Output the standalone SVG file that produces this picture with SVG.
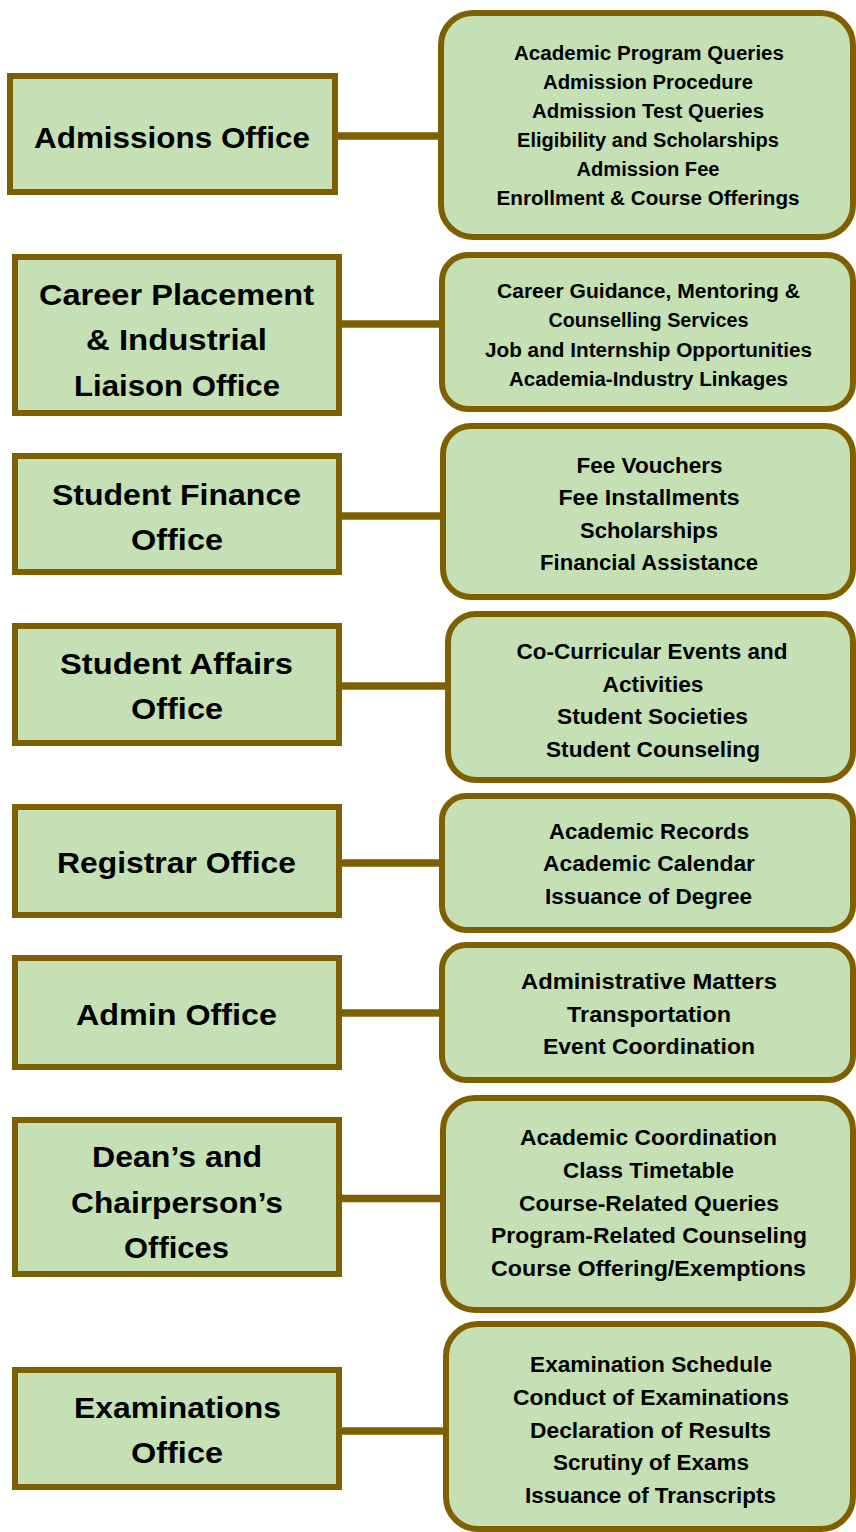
<svg xmlns="http://www.w3.org/2000/svg" width="856" height="1532" viewBox="0 0 856 1532">
<style>
.box{fill:#C5E0B4;stroke:#7F6000;stroke-width:6}
.con{stroke:#7F6000;stroke-width:7.5;fill:none}
text{font-family:"Liberation Sans",Arial,sans-serif;font-weight:bold;fill:#000;text-anchor:middle}
.L{font-size:30px}
.S{font-size:19.5px}
.M{font-size:22.5px}
</style>
<rect width="856" height="1532" fill="#fff"/>
<g id="connectors">
<line class="con" x1="336" y1="136" x2="443" y2="136"/>
<line class="con" x1="340" y1="324" x2="444" y2="324"/>
<line class="con" x1="340" y1="516" x2="444" y2="516"/>
<line class="con" x1="340" y1="686" x2="450" y2="686"/>
<line class="con" x1="340" y1="863" x2="444" y2="863"/>
<line class="con" x1="340" y1="1013" x2="444" y2="1013"/>
<line class="con" x1="340" y1="1198.5" x2="445" y2="1198.5"/>
<line class="con" x1="340" y1="1431" x2="449" y2="1431"/>
</g>
<g id="admissions-office">
<rect class="box" x="10" y="76" width="325" height="116"/>
<text class="L" x="172" y="148" textLength="276" lengthAdjust="spacingAndGlyphs">Admissions Office</text>
</g>
<g id="admissions-services">
<rect class="box" x="441" y="13" width="412" height="224" rx="32"/>
<text class="S" x="649" y="60" textLength="270" lengthAdjust="spacingAndGlyphs">Academic Program Queries</text>
<text class="S" x="648" y="89" textLength="210" lengthAdjust="spacingAndGlyphs">Admission Procedure</text>
<text class="S" x="648" y="118" textLength="232" lengthAdjust="spacingAndGlyphs">Admission Test Queries</text>
<text class="S" x="648" y="147" textLength="262" lengthAdjust="spacingAndGlyphs">Eligibility and Scholarships</text>
<text class="S" x="648" y="176" textLength="143" lengthAdjust="spacingAndGlyphs">Admission Fee</text>
<text class="S" x="648" y="205" textLength="303" lengthAdjust="spacingAndGlyphs">Enrollment &amp; Course Offerings</text>
</g>
<g id="career-office">
<rect class="box" x="15" y="257" width="324" height="156"/>
<text class="L" x="176.5" y="305" textLength="275" lengthAdjust="spacingAndGlyphs">Career Placement</text>
<text class="L" x="176.5" y="350" textLength="181" lengthAdjust="spacingAndGlyphs">&amp; Industrial</text>
<text class="L" x="177" y="396" textLength="206" lengthAdjust="spacingAndGlyphs">Liaison Office</text>
</g>
<g id="career-services">
<rect class="box" x="442" y="255" width="411" height="154" rx="26"/>
<text class="S" x="648.5" y="298" textLength="303" lengthAdjust="spacingAndGlyphs">Career Guidance, Mentoring &amp;</text>
<text class="S" x="648.5" y="327" textLength="200" lengthAdjust="spacingAndGlyphs">Counselling Services</text>
<text class="S" x="648.5" y="357" textLength="327" lengthAdjust="spacingAndGlyphs">Job and Internship Opportunities</text>
<text class="S" x="648.5" y="386" textLength="279" lengthAdjust="spacingAndGlyphs">Academia-Industry Linkages</text>
</g>
<g id="finance-office">
<rect class="box" x="15" y="456" width="324" height="116"/>
<text class="L" x="176.5" y="505" textLength="249" lengthAdjust="spacingAndGlyphs">Student Finance</text>
<text class="L" x="177" y="550" textLength="92" lengthAdjust="spacingAndGlyphs">Office</text>
</g>
<g id="finance-services">
<rect class="box" x="443" y="426" width="410" height="171" rx="28"/>
<text class="M" x="649.5" y="473" textLength="146" lengthAdjust="spacingAndGlyphs">Fee Vouchers</text>
<text class="M" x="649" y="505" textLength="181" lengthAdjust="spacingAndGlyphs">Fee Installments</text>
<text class="M" x="649" y="538" textLength="138" lengthAdjust="spacingAndGlyphs">Scholarships</text>
<text class="M" x="649" y="570" textLength="218" lengthAdjust="spacingAndGlyphs">Financial Assistance</text>
</g>
<g id="affairs-office">
<rect class="box" x="15" y="626" width="324" height="117"/>
<text class="L" x="176.5" y="674" textLength="233" lengthAdjust="spacingAndGlyphs">Student Affairs</text>
<text class="L" x="177" y="719" textLength="92" lengthAdjust="spacingAndGlyphs">Office</text>
</g>
<g id="affairs-services">
<rect class="box" x="448" y="614" width="405" height="166" rx="28"/>
<text class="M" x="652" y="659" textLength="271" lengthAdjust="spacingAndGlyphs">Co-Curricular Events and</text>
<text class="M" x="653" y="692" textLength="101" lengthAdjust="spacingAndGlyphs">Activities</text>
<text class="M" x="652.5" y="724" textLength="191" lengthAdjust="spacingAndGlyphs">Student Societies</text>
<text class="M" x="653" y="757" textLength="214" lengthAdjust="spacingAndGlyphs">Student Counseling</text>
</g>
<g id="registrar-office">
<rect class="box" x="15" y="807" width="324" height="108"/>
<text class="L" x="176.5" y="873" textLength="239" lengthAdjust="spacingAndGlyphs">Registrar Office</text>
</g>
<g id="registrar-services">
<rect class="box" x="442" y="796" width="411" height="134" rx="24"/>
<text class="M" x="649" y="839" textLength="200" lengthAdjust="spacingAndGlyphs">Academic Records</text>
<text class="M" x="649" y="871" textLength="212" lengthAdjust="spacingAndGlyphs">Academic Calendar</text>
<text class="M" x="648.5" y="904" textLength="207" lengthAdjust="spacingAndGlyphs">Issuance of Degree</text>
</g>
<g id="admin-office">
<rect class="box" x="15" y="958" width="324" height="109"/>
<text class="L" x="176.5" y="1025" textLength="201" lengthAdjust="spacingAndGlyphs">Admin Office</text>
</g>
<g id="admin-services">
<rect class="box" x="442" y="945" width="411" height="135" rx="24"/>
<text class="M" x="649" y="989" textLength="256" lengthAdjust="spacingAndGlyphs">Administrative Matters</text>
<text class="M" x="649" y="1022" textLength="164" lengthAdjust="spacingAndGlyphs">Transportation</text>
<text class="M" x="649" y="1054" textLength="212" lengthAdjust="spacingAndGlyphs">Event Coordination</text>
</g>
<g id="deans-office">
<rect class="box" x="15" y="1120" width="324" height="154"/>
<text class="L" x="177" y="1167" textLength="170" lengthAdjust="spacingAndGlyphs">Dean’s and</text>
<text class="L" x="177" y="1213" textLength="212" lengthAdjust="spacingAndGlyphs">Chairperson’s</text>
<text class="L" x="176.5" y="1258" textLength="105" lengthAdjust="spacingAndGlyphs">Offices</text>
</g>
<g id="deans-services">
<rect class="box" x="443" y="1098" width="410" height="212" rx="32"/>
<text class="M" x="648.5" y="1145" textLength="257" lengthAdjust="spacingAndGlyphs">Academic Coordination</text>
<text class="M" x="648.5" y="1178" textLength="171" lengthAdjust="spacingAndGlyphs">Class Timetable</text>
<text class="M" x="649" y="1211" textLength="260" lengthAdjust="spacingAndGlyphs">Course-Related Queries</text>
<text class="M" x="649" y="1243" textLength="316" lengthAdjust="spacingAndGlyphs">Program-Related Counseling</text>
<text class="M" x="648.5" y="1276" textLength="315" lengthAdjust="spacingAndGlyphs">Course Offering/Exemptions</text>
</g>
<g id="exams-office">
<rect class="box" x="15" y="1370" width="324" height="117"/>
<text class="L" x="177.5" y="1418" textLength="207" lengthAdjust="spacingAndGlyphs">Examinations</text>
<text class="L" x="177" y="1463" textLength="92" lengthAdjust="spacingAndGlyphs">Office</text>
</g>
<g id="exams-services">
<rect class="box" x="446" y="1324" width="407" height="205" rx="32"/>
<text class="M" x="651" y="1372" textLength="242" lengthAdjust="spacingAndGlyphs">Examination Schedule</text>
<text class="M" x="651" y="1405" textLength="276" lengthAdjust="spacingAndGlyphs">Conduct of Examinations</text>
<text class="M" x="650.5" y="1438" textLength="241" lengthAdjust="spacingAndGlyphs">Declaration of Results</text>
<text class="M" x="651" y="1470" textLength="196" lengthAdjust="spacingAndGlyphs">Scrutiny of Exams</text>
<text class="M" x="650.5" y="1503" textLength="251" lengthAdjust="spacingAndGlyphs">Issuance of Transcripts</text>
</g>
</svg>
